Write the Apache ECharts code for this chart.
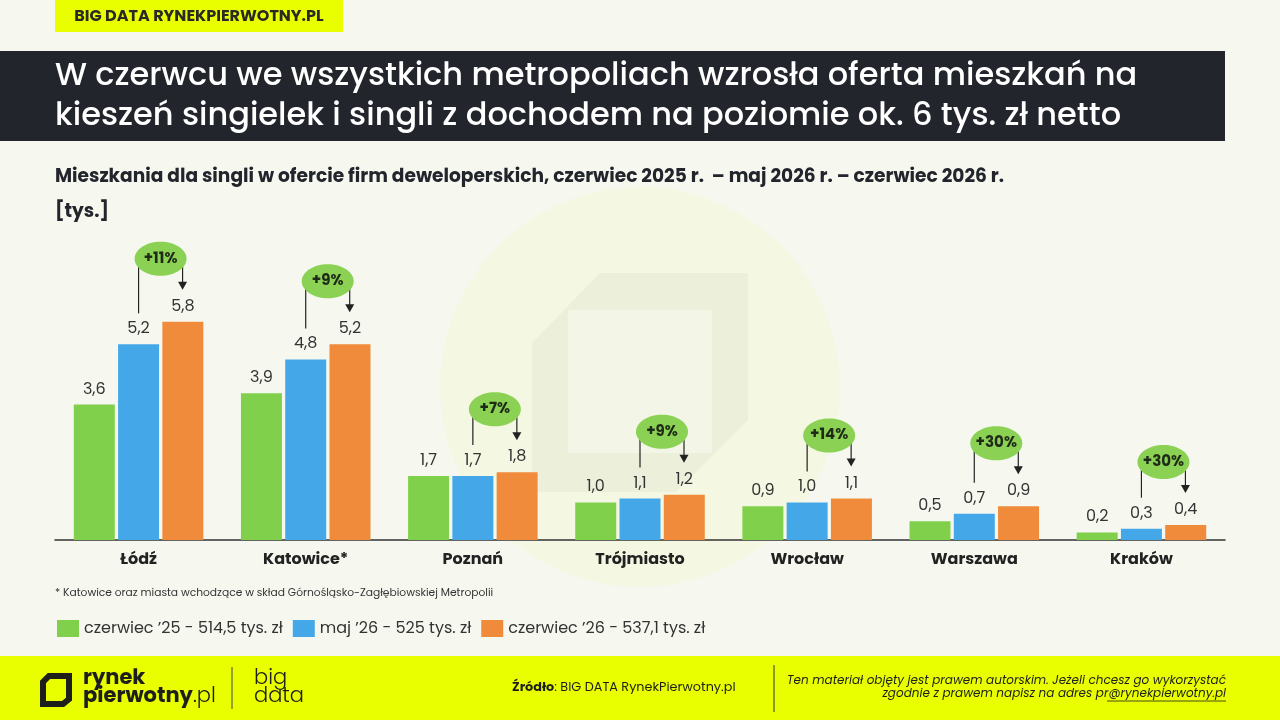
<!DOCTYPE html>
<html>
<head>
<meta charset="utf-8">
<script src="https://cdn.jsdelivr.net/npm/echarts@6/dist/echarts.min.js"></script>
<style>
  html, body { margin: 0; padding: 0; background: #f6f8f0; }
  #container { width: 1280px; height: 720px; }
</style>
</head>
<body>
<div id="container"></div>
<script>
// dane z wykresu
var cities = ['Łódź', 'Katowice*', 'Poznań', 'Trójmiasto', 'Wrocław', 'Warszawa', 'Kraków'];
var jun25 = [3.6, 3.9, 1.7, 1.0, 0.9, 0.5, 0.2];
var may26 = [5.2, 4.8, 1.7, 1.1, 1.0, 0.7, 0.3];
var jun26 = [5.8, 5.2, 1.8, 1.2, 1.1, 0.9, 0.4];
var changes = ['+11%', '+9%', '+7%', '+9%', '+14%', '+30%', '+30%'];
var seriesNames = ['czerwiec ’25 - 514,5 tys. zł', 'maj ’26 - 525 tys. zł', 'czerwiec ’26 - 537,1 tys. zł'];

var FONT = 'Poppins, Inter, "Noto Sans", sans-serif';
var BAR_W = 41;
var STEP = 44; // odstep srodkow slupkow

function fmt(v) {
	return v.toFixed(1).replace('.', ',');
}

function main() {
	var dom = document.getElementById('container');
	var myChart = echarts.init(dom);

	var barLabel = {
		show: true,
		position: 'top',
		distance: 7,
		fontFamily: FONT,
		fontSize: 16,
		color: '#333',
		formatter: function (p) { return fmt(p.value); }
	};

	var option = {
		backgroundColor: '#f6f8f0',
		animation: false,
		color: ['#80d04c', '#44a8e8', '#f08b3b'],
		grid: { left: 55, right: 55, top: 239, bottom: 180 },
		legend: {
			data: seriesNames,
			left: 52,
			top: 615,
			itemWidth: 22,
			itemHeight: 17,
			itemGap: 10,
			icon: 'rect',
			textStyle: { fontFamily: FONT, fontSize: 16, color: '#333' }
		},
		xAxis: {
			type: 'category',
			data: cities,
			axisLine: { lineStyle: { color: '#333', width: 1.5 } },
			axisTick: { show: false },
			axisLabel: { fontFamily: FONT, fontSize: 16, fontWeight: 'bold', color: '#222', margin: 12 }
		},
		yAxis: { type: 'value', min: 0, max: 8, show: false, splitLine: { show: false } },
		graphic: [
			// znak wodny
			{ type: 'circle', z: -5, shape: { cx: 640, cy: 387, r: 200 }, style: { fill: 'rgba(242,247,205,0.4)' } },
			{ type: 'polygon', z: -4, shape: { points: [[532, 343], [600, 273], [748, 273], [748, 420], [676, 492], [532, 492]] }, style: { fill: 'rgba(226,227,208,0.4)' } },
			{ type: 'rect', z: -3, shape: { x: 568, y: 310, width: 144, height: 143 }, style: { fill: '#f3f6e6' } },
			// naglowek
			{ type: 'rect', shape: { x: 55, y: 0, width: 288, height: 32 }, style: { fill: '#e9ff00' } },
			{ type: 'text', x: 199, y: 17, style: { text: 'BIG DATA RYNEKPIERWOTNY.PL', fontFamily: FONT, fontSize: 16, fontWeight: 'bold', fill: '#2a2a22', textAlign: 'center', textVerticalAlign: 'middle' } },
			{ type: 'rect', shape: { x: 0, y: 51, width: 1225, height: 90 }, style: { fill: '#23252d' } },
			{ type: 'text', x: 55, y: 77, style: { text: 'W czerwcu we wszystkich metropoliach wzrosła oferta mieszkań na', fontFamily: FONT, fontSize: 32, fontWeight: 500, fill: '#fff', textVerticalAlign: 'middle' } },
			{ type: 'text', x: 55, y: 117, style: { text: 'kieszeń singielek i singli z dochodem na poziomie ok. 6 tys. zł netto', fontFamily: FONT, fontSize: 32, fontWeight: 500, fill: '#fff', textVerticalAlign: 'middle' } },
			{ type: 'text', x: 55, y: 177, style: { text: 'Mieszkania dla singli w ofercie firm deweloperskich, czerwiec 2025 r.  – maj 2026 r. – czerwiec 2026 r.', fontFamily: FONT, fontSize: 18.6, fontWeight: 'bold', fill: '#23252d', textVerticalAlign: 'middle' } },
			{ type: 'text', x: 55, y: 212, style: { text: '[tys.]', fontFamily: FONT, fontSize: 18.6, fontWeight: 'bold', fill: '#23252d', textVerticalAlign: 'middle' } },
			{ type: 'text', x: 55, y: 593, style: { text: '* Katowice oraz miasta wchodzące w skład Górnośląsko-Zagłębiowskiej Metropolii', fontFamily: FONT, fontSize: 10.7, fill: '#333', textVerticalAlign: 'middle' } },
			// stopka
			{ type: 'rect', shape: { x: 0, y: 656, width: 1280, height: 64 }, style: { fill: '#e9ff00' } },
			{ type: 'polygon', shape: { points: [[49, 676], [69, 676], [69, 699], [63, 704], [43, 704], [43, 682]] }, style: { fill: 'none', stroke: '#1e1f1a', lineWidth: 6 } },
			{ type: 'text', x: 83, y: 679, style: { text: 'rynek', fontFamily: FONT, fontSize: 21, fontWeight: 'bold', fill: '#1e1f1a', textVerticalAlign: 'middle' } },
			{ type: 'text', x: 83, y: 697, style: { text: '{b|pierwotny}{l|.pl}', rich: { b: { fontFamily: FONT, fontSize: 21, fontWeight: 'bold', fill: '#1e1f1a' }, l: { fontFamily: FONT, fontSize: 21, fontWeight: 300, fill: '#1e1f1a' } }, textVerticalAlign: 'middle' } },
			{ type: 'line', shape: { x1: 232, y1: 667, x2: 232, y2: 709 }, style: { stroke: '#444', lineWidth: 1 } },
			{ type: 'text', x: 254, y: 679, style: { text: 'big', fontFamily: FONT, fontSize: 21, fontWeight: 300, fill: '#1e1f1a', textVerticalAlign: 'middle' } },
			{ type: 'text', x: 254, y: 697, style: { text: 'data', fontFamily: FONT, fontSize: 21, fontWeight: 300, fill: '#1e1f1a', textVerticalAlign: 'middle' } },
			{ type: 'text', x: 512, y: 688, style: { text: '{b|Źródło}: BIG DATA RynekPierwotny.pl', rich: { b: { fontFamily: FONT, fontSize: 12.8, fontWeight: 'bold', fill: '#1e1f1a' } }, fontFamily: FONT, fontSize: 12.8, fill: '#1e1f1a', textVerticalAlign: 'middle' } },
			{ type: 'line', shape: { x1: 774, y1: 665, x2: 774, y2: 712 }, style: { stroke: '#333', lineWidth: 1 } },
			{ type: 'text', x: 1226, y: 681, style: { text: 'Ten materiał objęty jest prawem autorskim. Jeżeli chcesz go wykorzystać', fontFamily: FONT, fontSize: 12, fontStyle: 'italic', fill: '#1e1f1a', textAlign: 'right', textVerticalAlign: 'middle' } },
			{ type: 'text', x: 1226, y: 694, style: { text: 'zgodnie z prawem napisz na adres pr@rynekpierwotny.pl', fontFamily: FONT, fontSize: 12, fontStyle: 'italic', fill: '#1e1f1a', textAlign: 'right', textVerticalAlign: 'middle' } },
			{ type: 'line', shape: { x1: 1107, y1: 701, x2: 1226, y2: 701 }, style: { stroke: '#1e1f1a', lineWidth: 0.8 } }
		],
		series: [
			{ name: seriesNames[0], type: 'bar', data: jun25, barWidth: BAR_W, barGap: '8%', label: barLabel },
			{ name: seriesNames[1], type: 'bar', data: may26, barWidth: BAR_W, barGap: '8%', label: barLabel },
			{ name: seriesNames[2], type: 'bar', data: jun26, barWidth: BAR_W, barGap: '8%', label: barLabel },
			{
				type: 'custom',
				clip: false,
				z: 5,
				data: cities.map(function (c, i) { return [i, may26[i], jun26[i]]; }),
				encode: { x: 0, y: [1, 2] },
				renderItem: function (params, api) {
					var b = api.coord([api.value(0), api.value(1)]);
					var o = api.coord([api.value(0), api.value(2)]);
					var bx = b[0];
					var ox = b[0] + STEP;
					var ex = bx + STEP / 2;
					var ey = o[1] - 63;
					var tip = o[1] - 32;
					return {
						type: 'group',
						children: [
							{ type: 'line', shape: { x1: bx, y1: ey, x2: bx, y2: b[1] - 31 }, style: { stroke: '#222', lineWidth: 1.2 } },
							{ type: 'line', shape: { x1: ox, y1: ey, x2: ox, y2: tip - 6 }, style: { stroke: '#222', lineWidth: 1.2 } },
							{ type: 'polygon', shape: { points: [[ox - 4.5, tip - 8], [ox + 4.5, tip - 8], [ox, tip]] }, style: { fill: '#222' } },
							{ type: 'ellipse', shape: { cx: ex, cy: ey, rx: 26, ry: 17 }, style: { fill: '#8bd254' } },
							{ type: 'text', x: ex, y: ey, style: { text: changes[params.dataIndex], fontFamily: FONT, fontSize: 15, fontWeight: 'bold', fill: '#1f2a17', textAlign: 'center', textVerticalAlign: 'middle' } }
						]
					};
				}
			}
		]
	};
	myChart.setOption(option, true);
}

main();
</script>
</body>
</html>
